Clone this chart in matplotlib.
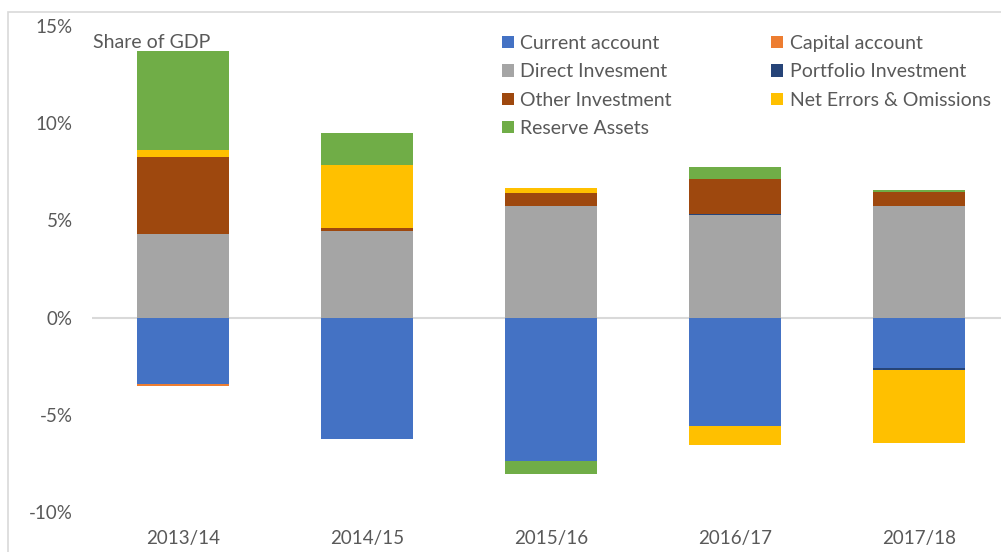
import numpy as np
import matplotlib
matplotlib.use("Agg")
from matplotlib import pyplot as plt
from matplotlib.patches import Rectangle

plt.rcParams['font.family'] = ['Lato', 'DejaVu Sans']

# data (share of GDP, %)
years = ["2013/14", "2014/15", "2015/16", "2016/17", "2017/18"]
current = [-3.42, -6.25, -7.37, -5.57, -2.61]
capital = [-0.08, 0.0, 0.0, 0.0, 0.0]
direct = [4.31, 4.43, 5.74, 5.29, 5.74]
portfolio = [0.0, 0.0, 0.0, 0.05, -0.06]
other = [3.95, 0.17, 0.67, 1.77, 0.72]
neo = [0.34, 3.24, 0.27, -0.98, -3.76]
reserve = [5.13, 1.66, -0.66, 0.64, 0.12]

names = ["Current account", "Capital account", "Direct Invesment",
         "Portfolio Investment", "Other Investment", "Net Errors & Omissions",
         "Reserve Assets"]
series = [current, capital, direct, portfolio, other, neo, reserve]
colors = ["#4472C4", "#ED7D31", "#A5A5A5", "#264478", "#9E480E", "#FFC000", "#70AD47"]

W, H = 1001, 552
fig = plt.figure(figsize=(W / 100, H / 100), dpi=100)
ax = fig.add_axes([92 / W, (H - 512) / H, 909 / W, 486 / H])

# outer chart border
fig.patches.append(Rectangle((8 / W, -0.1), 2, (H - 12) / H + 0.1,
                             transform=fig.transFigure, fill=False,
                             edgecolor="#d9d9d9", lw=1.2))

x = np.arange(len(years))
pos = np.zeros(len(years))
neg = np.zeros(len(years))
handles = []
for name, vals, c in zip(names, series, colors):
    v = np.array(vals)
    bottom = np.where(v >= 0, pos, neg)
    b = ax.bar(x, v, 0.5, bottom=bottom, color=c, label=name, zorder=2)
    handles.append(b)
    pos = pos + np.where(v >= 0, v, 0)
    neg = neg + np.where(v < 0, v, 0)

ax.axhline(0, color="#d9d9d9", lw=1.5, zorder=1)

ax.set_ylim(-10, 15)
ax.set_xlim(-0.4946, 4.446)
ax.set_yticks([-10, -5, 0, 5, 10, 15])
ax.set_yticklabels(["-10%", "-5%", "0%", "5%", "10%", "15%"])
ax.set_xticks(x)
ax.set_xticklabels(years)
ax.tick_params(axis="y", length=0, pad=14, labelsize=13.5, labelcolor="#595959")
ax.tick_params(axis="x", length=0, pad=13, labelsize=13.5, labelcolor="#595959")
for s in ax.spines.values():
    s.set_visible(False)

fig.text(93 / W, 1 - 42 / H, "Share of GDP", fontsize=14, color="#595959",
         va="center", ha="left")

order = [0, 2, 4, 6, 1, 3, 5]
leg = fig.legend([handles[i] for i in order], [names[i] for i in order],
                 ncol=2, loc="upper left", bbox_to_anchor=(502 / W, 1 - 35 / H),
                 frameon=False, fontsize=14, handlelength=0.6, handleheight=0.6,
                 handletextpad=0.35, columnspacing=5.1, labelspacing=0.58,
                 borderaxespad=0, borderpad=0)
for t in leg.get_texts():
    t.set_color("#595959")

fig.savefig("out.png", dpi=100)
